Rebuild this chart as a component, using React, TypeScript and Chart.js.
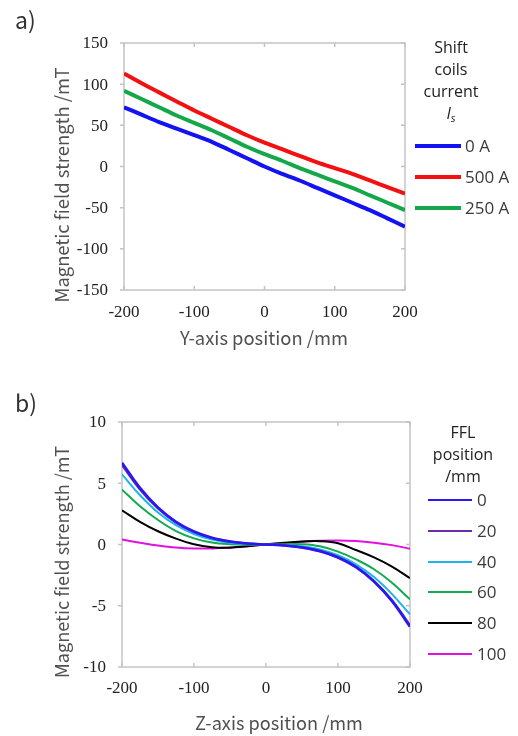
import React, { useEffect, useRef } from "react";
import { Chart, registerables } from "chart.js";
Chart.register(...registerables);

// ---------- Chart a) data ----------
const posY = [-200, -175, -150, -125, -100, -75, -50, -25, 0, 25, 50, 75, 100, 125, 150, 175, 200];
const field0A = [72, 63, 54, 46, 38, 30, 20, 10, 0, -9, -17, -26, -35, -44, -53, -63, -73];
const field500A = [113, 101, 90, 79, 68, 58, 48, 38, 29, 21, 13, 5, -2, -9, -17, -25, -33];
const field250A = [92, 82, 72, 62, 53, 44, 34, 24, 15, 7, -2, -10, -18, -26, -35, -44, -53];
const labelsA = ["0 A", "500 A", "250 A"];
const colorsA = ["#1212f2", "#f21010", "#14a84a"];
const ticksA_y = { min: -150, max: 150, step: 50 };
const ticksA_x = { min: -200, max: 200, step: 100 };

// ---------- Chart b) data ----------
const posZ = [-200, -175, -150, -125, -100, -75, -50, -25, 0, 25, 50, 75, 100, 125, 150, 175, 200];
const ffl0 = [6.68, 4.62, 3.02, 1.85, 1.06, 0.55, 0.25, 0.08, 0, -0.08, -0.25, -0.55, -1.06, -1.85, -3.02, -4.62, -6.72];
const ffl20 = [6.5, 4.5, 2.95, 1.8, 1.02, 0.52, 0.23, 0.07, 0, -0.07, -0.23, -0.53, -1.03, -1.82, -2.98, -4.55, -6.6];
const ffl40 = [5.73, 4.02, 2.62, 1.58, 0.86, 0.4, 0.15, 0.04, 0, -0.05, -0.15, -0.4, -0.88, -1.62, -2.66, -4.05, -5.7];
const ffl60 = [4.48, 3.12, 2.0, 1.1, 0.5, 0.16, 0.02, -0.02, 0, 0.03, 0.02, -0.15, -0.58, -1.22, -2.02, -3.12, -4.48];
const ffl80 = [2.79, 1.85, 1.08, 0.48, 0.02, -0.22, -0.26, -0.14, 0, 0.14, 0.24, 0.27, 0.1, -0.45, -1.05, -1.8, -2.75];
const ffl100 = [0.4, 0.15, -0.08, -0.25, -0.33, -0.32, -0.25, -0.13, 0, 0.12, 0.22, 0.3, 0.33, 0.28, 0.15, -0.05, -0.35];
const labelsB = ["0", "20", "40", "60", "80", "100"];
const colorsB = ["#2a18f0", "#6a2ca8", "#1cb4ee", "#10aa50", "#000000", "#e010e0"];
const widthsB = [2.6, 2.4, 2, 2, 2, 2];
const ticksB_y = { min: -10, max: 10, step: 5 };
const ticksB_x = { min: -200, max: 200, step: 100 };

const FRAME = "#c4c4c4";
const TEXT = "#3a3a3a";
const TICK_FONT = "17px 'Liberation Serif'";
const TITLE_FONT = "'Noto Sans CJK JP'";
const LEGEND_FONT = "'Open Sans'";

type Deco = {
  panel: string;
  panelX: number;
  panelY: number;
  yTitle: string;
  yTitleX: number;
  yTitleY: number;
  xTitle: string;
  xTitleX: number;
  xTitleY: number;
  xTitleWidth: number;
  xLabelOffset: number;
  legendTitle: string[];
  legendTitleX: number;
  legendTitleYs: number[];
  subLine?: { main: string; sub: string; y: number };
  lineX0: number;
  lineX1: number;
  textX: number;
  itemYs: number[];
  legendFontSize: number;
  legendLineWidth?: number;
};

function makeDecoPlugin(d: Deco) {
  return {
    id: "deco",
    beforeDatasetsDraw(chart: any) {
      const { ctx, chartArea: a, scales } = chart;
      const xs = scales.x;
      const ys = scales.y;
      ctx.save();
      ctx.strokeStyle = FRAME;
      ctx.lineWidth = 1.5;
      ctx.strokeRect(a.left, a.top, a.right - a.left, a.bottom - a.top);
      ctx.beginPath();
      xs.ticks.forEach((t: any) => {
        const px = xs.getPixelForValue(t.value);
        ctx.moveTo(px, a.bottom);
        ctx.lineTo(px, a.bottom - 4);
        ctx.moveTo(px, a.top);
        ctx.lineTo(px, a.top + 4);
      });
      ys.ticks.forEach((t: any) => {
        const py = ys.getPixelForValue(t.value);
        ctx.moveTo(a.left - 4, py);
        ctx.lineTo(a.left, py);
        ctx.moveTo(a.right, py);
        ctx.lineTo(a.right - 4, py);
      });
      ctx.stroke();
      // tick labels
      ctx.fillStyle = "#222";
      ctx.font = TICK_FONT;
      ctx.textBaseline = "middle";
      ctx.textAlign = "right";
      ys.ticks.forEach((t: any) => {
        ctx.fillText(String(t.value), a.left - 16, ys.getPixelForValue(t.value) + 1);
      });
      ctx.textAlign = "center";
      xs.ticks.forEach((t: any) => {
        ctx.fillText(String(t.value), xs.getPixelForValue(t.value), a.bottom + d.xLabelOffset);
      });
      ctx.restore();
    },
    afterDraw(chart: any) {
      const { ctx } = chart;
      ctx.save();
      // panel label
      ctx.fillStyle = "#333";
      ctx.font = `23px ${TITLE_FONT}`;
      ctx.textAlign = "left";
      ctx.textBaseline = "alphabetic";
      ctx.fillText(d.panel, d.panelX, d.panelY);
      // axis titles (size chosen so the x title spans its measured width)
      ctx.font = `100px ${TITLE_FONT}`;
      const w100 = ctx.measureText(d.xTitle).width;
      const titleSize = (100 * d.xTitleWidth) / w100;
      ctx.fillStyle = "#505050";
      ctx.font = `${titleSize.toFixed(2)}px ${TITLE_FONT}`;
      ctx.textAlign = "center";
      ctx.textBaseline = "middle";
      ctx.fillText(d.xTitle, d.xTitleX, d.xTitleY);
      ctx.save();
      ctx.translate(d.yTitleX, d.yTitleY);
      ctx.rotate(-Math.PI / 2);
      ctx.fillText(d.yTitle, 0, 0);
      ctx.restore();
      // legend title
      ctx.fillStyle = "#222";
      ctx.font = `16px ${LEGEND_FONT}`;
      d.legendTitle.forEach((s, i) => ctx.fillText(s, d.legendTitleX, d.legendTitleYs[i]));
      if (d.subLine) {
        ctx.font = `italic 16px ${LEGEND_FONT}`;
        const wm = ctx.measureText(d.subLine.main).width;
        ctx.font = `italic 11px ${LEGEND_FONT}`;
        const ws = ctx.measureText(d.subLine.sub).width;
        const x0 = d.legendTitleX - (wm + ws) / 2;
        ctx.textAlign = "left";
        ctx.font = `italic 16px ${LEGEND_FONT}`;
        ctx.fillText(d.subLine.main, x0, d.subLine.y);
        ctx.font = `italic 11px ${LEGEND_FONT}`;
        ctx.fillText(d.subLine.sub, x0 + wm, d.subLine.y + 5);
      }
      // legend items
      ctx.textAlign = "left";
      ctx.font = `${d.legendFontSize}px ${LEGEND_FONT}`;
      chart.data.datasets.forEach((ds: any, i: number) => {
        const y = d.itemYs[i];
        ctx.strokeStyle = ds.borderColor;
        ctx.lineWidth = d.legendLineWidth ?? ds.borderWidth;
        ctx.beginPath();
        ctx.moveTo(d.lineX0, y);
        ctx.lineTo(d.lineX1, y);
        ctx.stroke();
        ctx.fillStyle = TEXT;
        ctx.fillText(ds.label, d.textX, y + 1);
      });
      ctx.restore();
    },
  };
}

function buildOptions(
  yr: { min: number; max: number; step: number },
  xr: { min: number; max: number; step: number },
  pad: any,
  yWidth: number,
  xHeight: number
): any {
  return {
    responsive: false,
    animation: false,
    devicePixelRatio: 1,
    layout: { padding: pad },
    plugins: { legend: { display: false }, tooltip: { enabled: false } },
    elements: { point: { radius: 0 } },
    scales: {
      x: {
        type: "linear",
        min: xr.min,
        max: xr.max,
        grid: { display: false, drawTicks: false, tickLength: 0 },
        border: { display: false },
        ticks: { stepSize: xr.step, color: "rgba(0,0,0,0)", maxRotation: 0 },
        afterFit: (s: any) => {
          s.height = xHeight;
        },
      },
      y: {
        type: "linear",
        min: yr.min,
        max: yr.max,
        grid: { display: false, drawTicks: false, tickLength: 0 },
        border: { display: false },
        ticks: { stepSize: yr.step, color: "rgba(0,0,0,0)" },
        afterFit: (s: any) => {
          s.width = yWidth;
        },
      },
    },
  };
}

function ChartA() {
  const ref = useRef<HTMLCanvasElement>(null);
  useEffect(() => {
    const series = [field0A, field500A, field250A];
    const chart = new Chart(ref.current as HTMLCanvasElement, {
      type: "line",
      data: {
        datasets: series.map((vals, i) => ({
          label: labelsA[i],
          data: posY.map((x, j) => ({ x, y: vals[j] })),
          borderColor: colorsA[i],
          backgroundColor: colorsA[i],
          borderWidth: 4,
          tension: 0.3,
          fill: false,
        })),
      },
      options: buildOptions(ticksA_y, ticksA_x, { top: 43, right: 113, left: 0, bottom: 0 }, 124, 78),
      plugins: [
        makeDecoPlugin({
          panel: "a)",
          panelX: 15,
          panelY: 29,
          yTitle: "Magnetic field strength /mT",
          yTitleX: 62,
          yTitleY: 185,
          xTitle: "Y-axis position /mm",
          xTitleX: 264,
          xTitleY: 338,
          xTitleWidth: 168,
          xLabelOffset: 23,
          legendTitle: ["Shift", "coils", "current"],
          legendTitleX: 451,
          legendTitleYs: [48, 70, 92],
          subLine: { main: "I", sub: "s", y: 114 },
          lineX0: 415,
          lineX1: 461,
          textX: 465,
          itemYs: [146, 177, 208],
          legendFontSize: 17,
        }),
      ],
    } as any);
    return () => chart.destroy();
  }, []);
  return <canvas ref={ref} width={518} height={368} style={{ display: "block" }} />;
}

function ChartB() {
  const ref = useRef<HTMLCanvasElement>(null);
  useEffect(() => {
    const series = [ffl0, ffl20, ffl40, ffl60, ffl80, ffl100];
    const chart = new Chart(ref.current as HTMLCanvasElement, {
      type: "line",
      data: {
        datasets: series.map((vals, i) => ({
          label: labelsB[i],
          data: posZ.map((x, j) => ({ x, y: vals[j] })),
          borderColor: colorsB[i],
          backgroundColor: colorsB[i],
          borderWidth: widthsB[i],
          tension: 0.4,
          fill: false,
        })),
      },
      options: buildOptions(ticksB_y, ticksB_x, { top: 54, right: 108, left: 0, bottom: 0 }, 122, 69),
      plugins: [
        makeDecoPlugin({
          panel: "b)",
          panelX: 15,
          panelY: 44,
          yTitle: "Magnetic field strength /mT",
          yTitleX: 62,
          yTitleY: 194,
          xTitle: "Z-axis position /mm",
          xTitleX: 279,
          xTitleY: 355,
          xTitleWidth: 168,
          xLabelOffset: 22,
          legendTitle: ["FFL", "position", "/mm"],
          legendTitleX: 463,
          legendTitleYs: [65, 87, 109],
          lineX0: 428,
          lineX1: 472,
          textX: 477,
          itemYs: [132, 163, 194, 224, 255, 286],
          legendFontSize: 17,
          legendLineWidth: 2,
        }),
      ],
    } as any);
    return () => chart.destroy();
  }, []);
  return <canvas ref={ref} width={518} height={368} style={{ display: "block" }} />;
}

export default function App() {
  return (
    <div style={{ position: "absolute", left: 0, top: 0, width: 518, height: 736, background: "#fff" }}>
      <ChartA />
      <ChartB />
    </div>
  );
}
